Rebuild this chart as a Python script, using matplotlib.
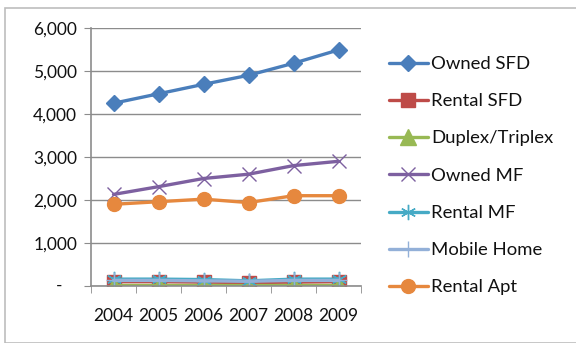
import matplotlib
matplotlib.use("Agg")
import matplotlib.pyplot as plt
from matplotlib.patches import Rectangle
from matplotlib.ticker import FixedLocator, FuncFormatter

plt.rcParams['font.family'] = ['Lato', 'DejaVu Sans']

years = ["2004", "2005", "2006", "2007", "2008", "2009"]

owned_sfd = [4250, 4470, 4690, 4900, 5180, 5490]
rental_sfd = [100, 100, 90, 80, 90, 100]
duplex_triplex = [30, 30, 30, 30, 30, 30]
owned_mf = [2130, 2310, 2500, 2600, 2800, 2900]
rental_mf = [160, 160, 150, 120, 160, 160]
mobile_home = [130, 130, 120, 110, 130, 130]
rental_apt = [1900, 1960, 2020, 1940, 2100, 2100]

series = [
    ("Owned SFD", owned_sfd, "#4A7EBB", "D", 8.5),
    ("Rental SFD", rental_sfd, "#BE4B48", "s", 9.5),
    ("Duplex/Triplex", duplex_triplex, "#98B954", "^", 11),
    ("Owned MF", owned_mf, "#7D60A0", "x", 10),
    ("Rental MF", rental_mf, "#46AAC5", (6, 2, 0), 11),
    ("Mobile Home", mobile_home, "#93B0D8", "+", 11),
    ("Rental Apt", rental_apt, "#E6883E", "o", 10),
]

W, H = 576, 343
TEXT = "#111111"
fig = plt.figure(figsize=(W / 100, H / 100), dpi=100)
fig.patch.set_facecolor("white")

# chart frame
fig.patches.append(Rectangle((5 / W, 0), 1.0, 1 - 8 / H, transform=fig.transFigure,
                             fill=False, edgecolor="#bdbdbd", linewidth=1.2))

ax = fig.add_axes([91 / W, 1 - 286 / H, 270 / W, 258 / H])

x = list(range(len(years)))
for name, vals, color, marker, ms in series:
    ax.plot(x, vals, color=color, linewidth=2.4, marker=marker, markersize=ms,
            markerfacecolor=color, markeredgecolor=color, markeredgewidth=1.0,
            label=name, solid_capstyle="round")

ax.set_xlim(-0.5, len(years) - 0.5)
ax.set_ylim(0, 6000)

ax.set_yticks([0, 1000, 2000, 3000, 4000, 5000, 6000])
ax.yaxis.set_major_formatter(FuncFormatter(lambda v, p: "" if v == 0 else f"{int(v):,}"))
ax.annotate("-", xy=(0, 0), xycoords=("axes fraction", "data"), xytext=(-29, 0),
            textcoords="offset pixels", ha="right", va="center", fontsize=12.5, color=TEXT)

ax.set_xticks(x)
ax.set_xticklabels(years)
ax.xaxis.set_minor_locator(FixedLocator([i - 0.5 for i in range(len(years) + 1)]))

ax.grid(axis="y", color="#8c8c8c", linewidth=1.0)
ax.set_axisbelow(True)
for s in ("top", "right"):
    ax.spines[s].set_visible(False)
for s in ("left", "bottom"):
    ax.spines[s].set_color("#8c8c8c")
    ax.spines[s].set_linewidth(1.2)

ax.tick_params(axis="y", which="major", length=5, color="#8c8c8c", pad=5,
               labelsize=12.5, labelcolor=TEXT)
ax.tick_params(axis="x", which="major", length=0, pad=15.5, labelsize=12.5, labelcolor=TEXT)
ax.tick_params(axis="x", which="minor", length=5, color="#8c8c8c")

leg = ax.legend(loc="upper left", bbox_to_anchor=(389 / W, 1 - 56 / H),
                bbox_transform=fig.transFigure, frameon=False, fontsize=13.3,
                handlelength=2.1, handletextpad=0.2, labelspacing=1.15,
                borderpad=0, borderaxespad=0)
for t in leg.get_texts():
    t.set_color(TEXT)

fig.savefig("out.png", dpi=100, facecolor="white")
